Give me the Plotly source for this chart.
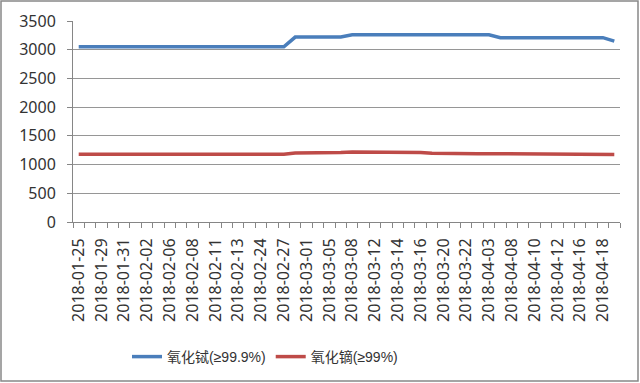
import plotly.graph_objects as go

dates = [
    "2018-01-25", "2018-01-26", "2018-01-29", "2018-01-30", "2018-01-31", "2018-02-01",
    "2018-02-02", "2018-02-05", "2018-02-06", "2018-02-07", "2018-02-08", "2018-02-09",
    "2018-02-11", "2018-02-12", "2018-02-13", "2018-02-22", "2018-02-24", "2018-02-26",
    "2018-02-27", "2018-02-28", "2018-03-01", "2018-03-02", "2018-03-05", "2018-03-06",
    "2018-03-08", "2018-03-09", "2018-03-12", "2018-03-13", "2018-03-14", "2018-03-15",
    "2018-03-16", "2018-03-19", "2018-03-20", "2018-03-21", "2018-03-22", "2018-03-23",
    "2018-04-03", "2018-04-04", "2018-04-08", "2018-04-09", "2018-04-10", "2018-04-11",
    "2018-04-12", "2018-04-13", "2018-04-16", "2018-04-17", "2018-04-18", "2018-04-19",
]

tb_oxide = [3050] * 19 + [3220] * 5 + [3260] * 13 + [3210] * 10 + [3150]
dy_oxide = ([1180] * 19 + [1200] * 4 + [1210] + [1220] * 6 + [1210, 1195]
            + [1190] * 11 + [1175] * 5)

series_names = ["氧化铽(≥99.9%)", "氧化镝(≥99%)"]
colors = ["#4a7ebb", "#be4b48"]

tick_text = [d if i % 2 == 0 else "" for i, d in enumerate(dates)]

font_fam = "Noto Sans, Noto Sans CJK SC, sans-serif"
legend_fam = "Liberation Sans, Noto Sans CJK SC, sans-serif"

fig = go.Figure()
for name, vals, c in zip(series_names, [tb_oxide, dy_oxide], colors):
    fig.add_trace(go.Scatter(x=dates, y=vals, mode="lines", name=name,
                             line=dict(color=c, width=3.5)))

L, R, T, B = 73, 20, 21, 161
W, H = 640, 383
pw, ph = W - L - R, H - T - B

fig.update_layout(
    width=W, height=H,
    margin=dict(l=L, r=R, t=T, b=B, autoexpand=False),
    paper_bgcolor="white", plot_bgcolor="white",
    font=dict(family=font_fam, size=16, color="#333333"),
    showlegend=True,
    legend=dict(orientation="h", x=(265 - L) / pw, xanchor="center",
                y=-(357 - T - ph) / ph, yanchor="middle",
                font=dict(size=14, family=legend_fam),
                itemwidth=30, tracegroupgap=0),
    xaxis=dict(type="category", tickmode="array", tickvals=dates, ticktext=tick_text,
               tickangle=-90, tickson="boundaries", ticks="outside", ticklen=5,
               tickcolor="#868686", showline=True, linecolor="#868686",
               showgrid=False, tickfont=dict(size=16), automargin=False,
               ticklabelstandoff=9, range=[-0.5, len(dates) - 0.5]),
    yaxis=dict(range=[0, 3500], dtick=500, ticks="outside", ticklen=5,
               tickcolor="#868686", showline=True, linecolor="#868686",
               showgrid=True, gridcolor="#969696", gridwidth=1,
               zeroline=False, ticklabelstandoff=8, tickfont=dict(size=16),
               automargin=False),
    shapes=[dict(type="rect", xref="paper", yref="paper",
                 x0=(1 - L) / pw, x1=(638 - L) / pw,
                 y0=-(H - 2 - T - ph) / ph,
                 y1=1 + (T - 1) / ph,
                 line=dict(color="#888888", width=1.5))],
)

fig.write_html("out.html", config={"displayModeBar": False},
               post_script="document.body.style.margin='0';")
